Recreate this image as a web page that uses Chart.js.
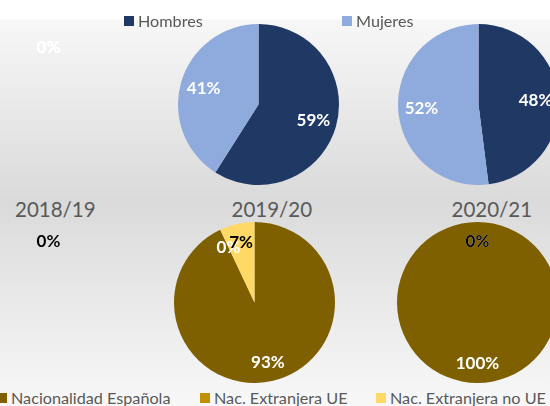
<!DOCTYPE html>
<html><head><meta charset="utf-8">
<script src="https://cdn.jsdelivr.net/npm/chart.js@4"></script>
<style>
html,body{margin:0;padding:0;width:550px;height:406px;overflow:hidden;}
body{position:relative;background:linear-gradient(to bottom,#ffffff 0px,#ffffff 19px,#f7f7f7 20px,#dadada 200px,#f8f8f8 406px);font-family:Lato,'Liberation Sans',sans-serif;}
canvas.pie{position:absolute;}
.t{position:absolute;color:#595959;white-space:nowrap;line-height:20px;}
.sw{position:absolute;width:10px;height:10px;}
</style></head><body>
<script>
// ---- data ----
const years = ['2018/19', '2019/20', '2020/21'];
const genderLabels = ['Hombres', 'Mujeres'];
const hombres = [0, 59, 48];
const mujeres = [0, 41, 52];
const nationLabels = ['Nacionalidad Española', 'Nac. Extranjera UE', 'Nac. Extranjera no UE'];
const espanola = [0, 93, 100];
const extranjeraUE = [0, 0, 0];
const extranjeraNoUE = [0, 7, 0];

// ---- styles / layout ----
const genderColors = ['#1f3864', '#8faadc'];
const genderLabelColors = ['#ffffff', '#ffffff'];
const nationColors = ['#7f6000', '#bf9000', '#ffd966'];
const nationLabelColors = ['#ffffff', '#ffffff', '#000000'];
const topCenters = [[48, 104.5], [258.5, 104.5], [478.5, 104.5]];
const bottomCenters = [[48, 302], [254.5, 302], [477, 302]];
const radius = 80.5;

const pctLabels = {
  id: 'pctLabels',
  afterDatasetsDraw(chart, args, opts) {
    const ctx = chart.ctx;
    const meta = chart.getDatasetMeta(0);
    const data = chart.data.datasets[0].data;
    const total = data.reduce((a, b) => a + b, 0);
    ctx.save();
    ctx.font = 'bold 17px Lato, "Liberation Sans", sans-serif';
    ctx.textAlign = 'center';
    ctx.textBaseline = 'middle';
    meta.data.forEach((arc, i) => {
      const p = arc.getProps(['x', 'y', 'startAngle', 'endAngle', 'outerRadius'], true);
      const mid = (p.startAngle + p.endAngle) / 2;
      const d = p.outerRadius * opts.k;
      const pct = total ? Math.round(data[i] / total * 100) : 0;
      ctx.fillStyle = opts.colors[i];
      ctx.fillText(pct + '%', p.x + Math.cos(mid) * d, p.y + Math.sin(mid) * d);
    });
    ctx.restore();
  }
};

function makePie(center, labels, values, colors, labelColors, k) {
  const size = Math.round(radius * 2);
  const c = document.createElement('canvas');
  c.className = 'pie';
  c.width = size; c.height = size;
  c.style.width = size + 'px'; c.style.height = size + 'px';
  c.style.left = (center[0] - size / 2) + 'px';
  c.style.top = (center[1] - size / 2) + 'px';
  document.body.appendChild(c);
  new Chart(c, {
    type: 'pie',
    data: { labels: labels, datasets: [{ data: values, backgroundColor: colors, borderWidth: 0 }] },
    options: {
      responsive: false, animation: false,
      layout: { padding: 0 },
      plugins: { legend: { display: false }, tooltip: { enabled: false }, pctLabels: { k: k, colors: labelColors } }
    },
    plugins: [pctLabels]
  });
}

years.forEach((y, i) => {
  makePie(topCenters[i], genderLabels, [hombres[i], mujeres[i]], genderColors, genderLabelColors, 0.71);
  makePie(bottomCenters[i], nationLabels, [espanola[i], extranjeraUE[i], extranjeraNoUE[i]], nationColors, nationLabelColors, 0.76);
});

function addText(txt, x, cy, size, center) {
  const d = document.createElement('div');
  d.className = 't';
  d.textContent = txt;
  d.style.fontSize = size + 'px';
  d.style.top = (cy - 10) + 'px';
  document.body.appendChild(d);
  if (center) d.style.left = (x - d.offsetWidth / 2) + 'px'; else d.style.left = x + 'px';
}
function addSwatch(x, y, color) {
  const s = document.createElement('div');
  s.className = 'sw';
  s.style.left = x + 'px'; s.style.top = y + 'px'; s.style.background = color;
  document.body.appendChild(s);
}

// bottom titles
const titleX = [55.5, 272, 492];
years.forEach((y, i) => addText(y, titleX[i], 208.5, 20.5, true));

// top legend
const gLegX = [124, 342];
genderLabels.forEach((l, i) => { addSwatch(gLegX[i], 16, genderColors[i]); addText(l, gLegX[i] + 14, 21, 16.2, false); });
// bottom legend
const nLegX = [-3, 200, 376];
nationLabels.forEach((l, i) => { addSwatch(nLegX[i], 393, nationColors[i]); addText(l, nLegX[i] + 14, 398, 16.2, false); });
</script>
</body></html>
